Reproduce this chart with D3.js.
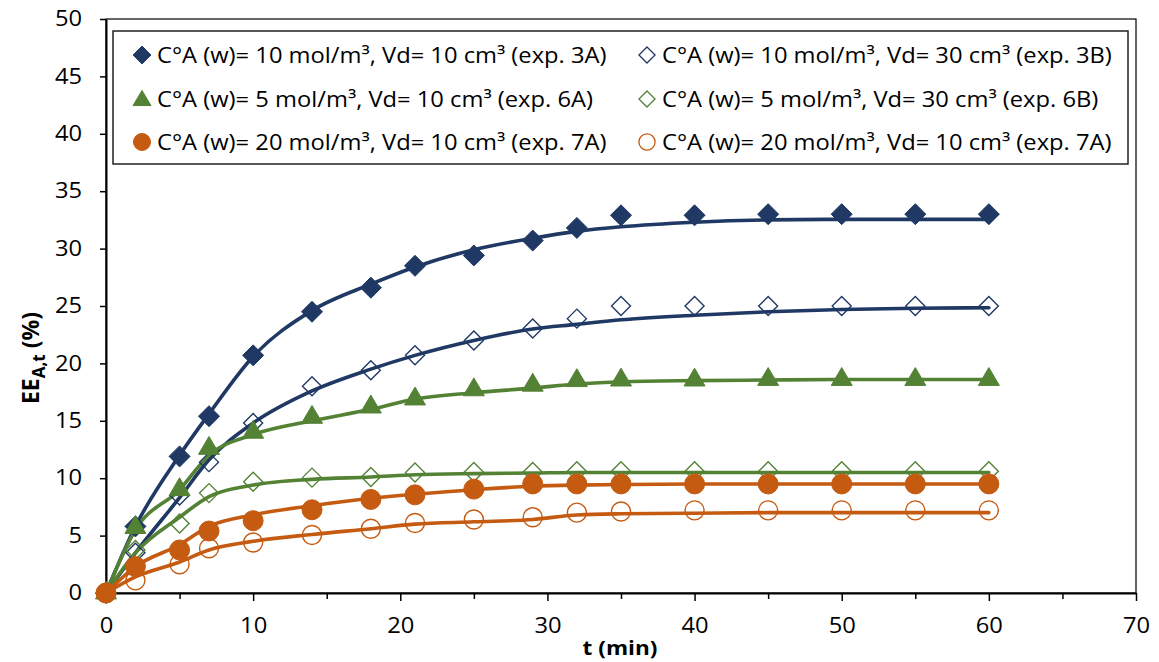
<!DOCTYPE html>
<html>
<head>
<meta charset="utf-8">
<script src="https://cdn.jsdelivr.net/npm/d3@7"></script>
<style>
  html, body { margin: 0; padding: 0; background: #fff; }
  svg { display: block; font-family: "Open Sans", "DejaVu Sans", sans-serif; }
</style>
</head>
<body>
<svg id="chart" width="1159" height="662"></svg>
<script>
// Sampling times (min)
const times = [0, 2, 5, 7, 10, 14, 18, 21, 25, 29, 32, 35, 40, 45, 50, 55, 60];

// Measured extraction efficiency EE_A,t (%)
const exp3A = [0, 5.8, 11.9, 15.4, 20.7, 24.5, 26.6, 28.5, 29.4, 30.7, 31.8, 32.9, 32.9, 33.0, 33.0, 33.0, 33.0];
const exp3B = [0, 3.5, 8.5, 11.4, 14.8, 18.0, 19.4, 20.7, 22.0, 23.05, 23.9, 25.0, 25.0, 25.0, 25.0, 25.0, 25.0];
const exp6A = [0, 5.7, 9.0, 12.6, 14.0, 15.3, 16.2, 16.9, 17.7, 18.1, 18.5, 18.55, 18.55, 18.6, 18.6, 18.6, 18.6];
const exp6B = [0, 3.75, 6.05, 8.7, 9.7, 10.05, 10.1, 10.5, 10.55, 10.55, 10.6, 10.6, 10.6, 10.6, 10.6, 10.6, 10.6];
const exp7A = [0, 2.3, 3.75, 5.4, 6.3, 7.25, 8.15, 8.55, 9.05, 9.5, 9.5, 9.5, 9.5, 9.5, 9.5, 9.5, 9.5];
const exp7Aopen = [0, 1.1, 2.5, 3.9, 4.4, 5.05, 5.6, 6.1, 6.4, 6.6, 7.0, 7.1, 7.2, 7.2, 7.2, 7.2, 7.2];

// Model curves (%)
const fit3A = [0, 5.8, 12.0, 15.6, 20.6, 24.6, 26.9, 28.4, 29.9, 30.9, 31.5, 31.9, 32.3, 32.5, 32.55, 32.55, 32.55];
const fit3B = [0, 3.5, 8.3, 11.6, 14.8, 17.6, 19.5, 20.7, 22.0, 23.0, 23.4, 23.8, 24.2, 24.5, 24.7, 24.8, 24.85];
const fit6A = [0, 5.5, 9.0, 12.0, 13.8, 15.0, 16.0, 16.9, 17.45, 17.85, 18.2, 18.4, 18.5, 18.55, 18.6, 18.6, 18.6];
const fit6B = [0, 3.5, 6.6, 8.4, 9.4, 9.9, 10.1, 10.3, 10.4, 10.45, 10.5, 10.5, 10.5, 10.5, 10.5, 10.5, 10.5];
const fit7A = [0, 2.3, 4.2, 5.8, 6.8, 7.6, 8.25, 8.6, 9.0, 9.3, 9.4, 9.45, 9.5, 9.5, 9.5, 9.5, 9.5];
const fit7Aopen = [0, 1.4, 2.7, 3.75, 4.5, 5.1, 5.6, 6.0, 6.2, 6.4, 6.8, 6.9, 6.95, 7.0, 7.0, 7.0, 7.0];

// Legend labels
const labels = [
  "C°A (w)= 10 mol/m³, Vd= 10 cm³ (exp. 3A)",
  "C°A (w)= 10 mol/m³, Vd= 30 cm³ (exp. 3B)",
  "C°A (w)= 5 mol/m³, Vd= 10 cm³ (exp. 6A)",
  "C°A (w)= 5 mol/m³, Vd= 30 cm³ (exp. 6B)",
  "C°A (w)= 20 mol/m³, Vd= 10 cm³ (exp. 7A)",
  "C°A (w)= 20 mol/m³, Vd= 10 cm³ (exp. 7A)"
];

const xTicks = d3.range(0, 71, 5);
const yTicks = d3.range(0, 51, 5);

const NAVY = "#203864", GREEN = "#548235", ORANGE = "#C55A11";

const series = [
  { pts: exp3A, fit: fit3A, color: NAVY, shape: "diamond", filled: true },
  { pts: exp3B, fit: fit3B, color: NAVY, shape: "diamond", filled: false },
  { pts: exp6A, fit: fit6A, color: GREEN, shape: "triangle", filled: true },
  { pts: exp6B, fit: fit6B, color: GREEN, shape: "diamond", filled: false },
  { pts: exp7A, fit: fit7A, color: ORANGE, shape: "circle", filled: true },
  { pts: exp7Aopen, fit: fit7Aopen, color: ORANGE, shape: "circle", filled: false }
];
series.forEach((s, i) => s.label = labels[i]);

const svg = d3.select("#chart");
const plotL = 106, plotR = 1136, plotT = 19, plotB = 593;
const x = d3.scaleLinear().domain([0, 70]).range([plotL, plotR]);
const y = d3.scaleLinear().domain([0, 50]).range([plotB, plotT]);

// Text is set slightly wide (horizontal stretch factor)
const STRETCH = 1.13;

// Marker outlines, r = half width
function shapePath(s, r) {
  if (s.shape === "diamond") return `M0,${-r}L${r},0L0,${r}L${-r},0Z`;
  if (s.shape === "triangle") {
    const h = r * 1.7;
    return `M0,${-h * 2 / 3}L${r},${h / 3}L${-r},${h / 3}Z`;
  }
  return `M${r},0A${r},${r} 0 1,1 ${-r},0A${r},${r} 0 1,1 ${r},0Z`;
}
function markerSize(s) {
  if (s.shape === "diamond") return s.filled ? 10.5 : 9.5;
  if (s.shape === "triangle") return 10.5;
  return s.filled ? 10 : 9.5;
}

// Plot frame (top and right edges)
svg.append("rect")
  .attr("x", plotL).attr("y", plotT)
  .attr("width", plotR - plotL).attr("height", plotB - plotT)
  .attr("fill", "none").attr("stroke", "#000").attr("stroke-width", 1.2);

// Axes
const yAxis = d3.axisLeft(y).tickValues(yTicks).tickSize(6).tickSizeOuter(0).tickPadding(18);
const gy = svg.append("g").attr("transform", `translate(${plotL},0)`).call(yAxis);
const xAxis = d3.axisBottom(x).tickValues(xTicks).tickSize(8).tickSizeOuter(0).tickPadding(22)
  .tickFormat(d => d % 10 === 0 ? d : "");
const gx = svg.append("g").attr("transform", `translate(0,${plotB})`).call(xAxis);
gx.selectAll(".tick line").attr("y2", d => d % 10 === 0 ? 8 : 6);

[gx, gy].forEach(g => {
  g.select(".domain").attr("stroke", "#000").attr("stroke-width", 2);
  g.selectAll(".tick line").attr("stroke", "#000").attr("stroke-width", 1.5);
  g.selectAll(".tick text").attr("fill", "#000")
    .style("font-family", '"Open Sans", sans-serif').style("font-size", "21px")
    .each(function () {
      const t = d3.select(this);
      const x0 = +t.attr("x") || 0;
      t.attr("x", x0 / STRETCH).attr("transform", `scale(${STRETCH},1)`);
    });
});
gx.selectAll(".tick text").attr("dy", "0.5em");

// Model curves
const line = d3.line()
  .x((d, i) => x(times[i]))
  .y(d => y(d))
  .curve(d3.curveMonotoneX);

svg.append("g").selectAll("path.fit")
  .data(series)
  .join("path")
  .attr("class", "fit")
  .attr("d", s => line(s.fit))
  .attr("fill", "none")
  .attr("stroke", s => s.color)
  .attr("stroke-width", 3.6)
  .attr("stroke-linejoin", "round")
  .attr("stroke-linecap", "round");

// Measured points
series.forEach(s => {
  const r = markerSize(s);
  svg.append("g").selectAll("path")
    .data(s.pts)
    .join("path")
    .attr("transform", (d, i) => `translate(${x(times[i])},${y(d)})`)
    .attr("d", shapePath(s, r))
    .attr("fill", s.filled ? s.color : "none")
    .attr("stroke", s.color)
    .attr("stroke-width", s.filled ? 1 : 1.4);
});

// Legend
const lg = svg.append("g");
lg.append("rect")
  .attr("x", 113).attr("y", 31).attr("width", 1015).attr("height", 133)
  .attr("fill", "#fff").attr("stroke", "#222").attr("stroke-width", 1.5);

const colX = [142, 647];
const rowY = [55, 99, 142];
series.forEach((s, i) => {
  const cx = colX[i % 2], cy = rowY[Math.floor(i / 2)];
  const r = markerSize(s) * 0.85;
  lg.append("path")
    .attr("transform", `translate(${cx},${cy + (s.shape === "triangle" ? 1.5 : 0)})`)
    .attr("d", shapePath(s, r))
    .attr("fill", s.filled ? s.color : "none")
    .attr("stroke", s.color)
    .attr("stroke-width", s.filled ? 1 : 1.3);
  lg.append("text")
    .attr("transform", `translate(${cx + 15},${cy}) scale(${STRETCH},1)`)
    .attr("dy", "0.36em")
    .style("font-size", "21px")
    .attr("fill", "#000")
    .text(s.label);
});

// Axis titles
svg.append("text")
  .attr("transform", `translate(${(plotL + plotR) / 2 - 1},655) scale(${STRETCH},1)`)
  .attr("text-anchor", "middle")
  .style("font-size", "20px").style("font-weight", "bold")
  .text("t (min)");

const yt = svg.append("text")
  .attr("transform", `translate(39,358) rotate(-90)`)
  .attr("text-anchor", "middle")
  .style("font-size", "23px").style("font-weight", "bold");
yt.append("tspan").text("EE");
yt.append("tspan").attr("dy", 6).style("font-size", "17px").text("A,t");
yt.append("tspan").attr("dy", -6).text(" (%)");
</script>
</body>
</html>
